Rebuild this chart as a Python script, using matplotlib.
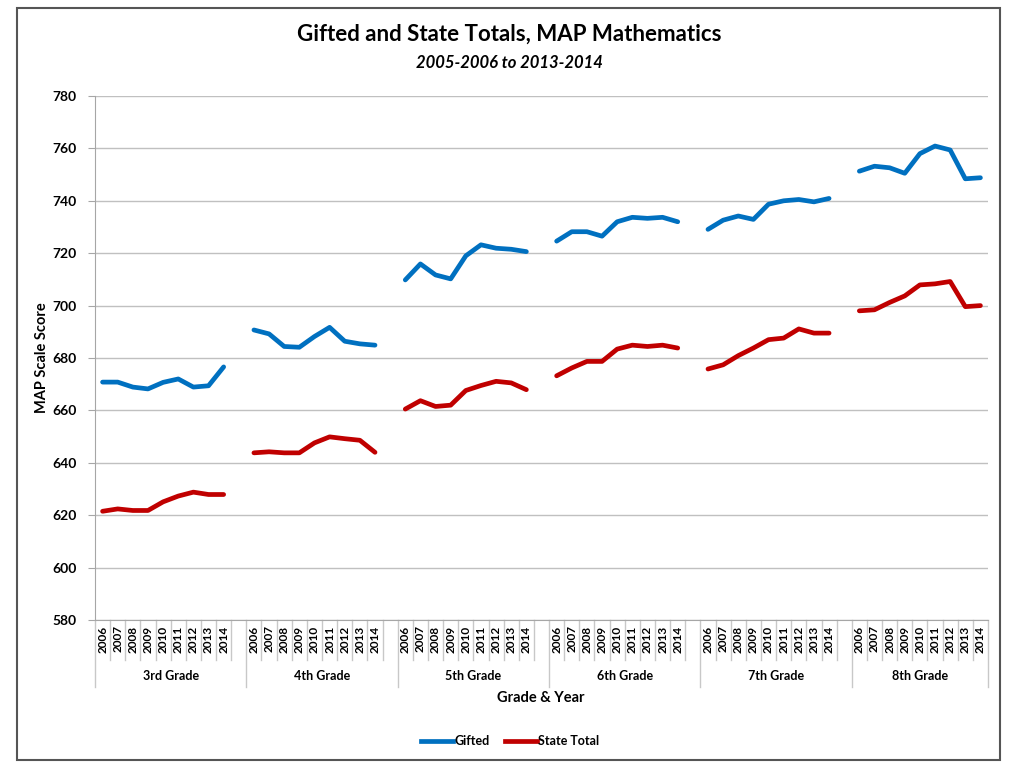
import matplotlib
matplotlib.use("Agg")
import matplotlib.pyplot as plt
from matplotlib.lines import Line2D
from matplotlib.patches import Rectangle
import matplotlib.transforms as mtransforms

plt.rcParams['font.family'] = ['Lato', 'DejaVu Sans']

grades = ["3rd Grade", "4th Grade", "5th Grade", "6th Grade", "7th Grade", "8th Grade"]
years = ["2006", "2007", "2008", "2009", "2010", "2011", "2012", "2013", "2014"]

gifted = [
    [670.8, 670.8, 668.9, 668.2, 670.7, 672.0, 668.9, 669.4, 676.6],
    [690.7, 689.2, 684.4, 684.1, 688.2, 691.7, 686.4, 685.4, 684.9],
    [709.8, 715.9, 711.7, 710.2, 719.0, 723.2, 721.9, 721.5, 720.6],
    [724.6, 728.2, 728.2, 726.5, 732.0, 733.7, 733.3, 733.7, 732.0],
    [729.1, 732.6, 734.2, 732.9, 738.7, 740.0, 740.5, 739.6, 740.9],
    [751.3, 753.2, 752.6, 750.5, 758.0, 760.9, 759.4, 748.4, 748.8],
]
state = [
    [621.5, 622.4, 621.8, 621.8, 625.1, 627.3, 628.8, 627.9, 627.9],
    [643.8, 644.2, 643.8, 643.8, 647.6, 649.9, 649.2, 648.6, 644.0],
    [660.5, 663.7, 661.5, 662.0, 667.6, 669.5, 671.1, 670.5, 667.9],
    [673.2, 676.2, 678.7, 678.7, 683.4, 684.9, 684.4, 684.9, 683.8],
    [675.8, 677.4, 680.9, 683.8, 687.0, 687.6, 691.1, 689.5, 689.5],
    [698.0, 698.4, 701.2, 703.7, 707.9, 708.3, 709.2, 699.6, 700.0],
]

blue = "#0070C0"
red = "#C00000"

W, H = 1024, 768
fig = plt.figure(figsize=(W / 100, H / 100), dpi=100)
fig.patch.set_facecolor("white")
fig.patches.append(Rectangle((17 / W, 1 - 760 / H), (1000 - 17) / W, (760 - 8) / H,
                             transform=fig.transFigure, fill=False,
                             edgecolor="#555555", linewidth=1.5))

ax = fig.add_axes([95 / W, 1 - 620 / H, (988 - 95) / W, (620 - 96) / H])
slot = len(years) + 1
n_slots = slot * len(grades) - 1
ax.set_xlim(-0.5, n_slots - 0.5)
ax.set_ylim(580, 780)
ax.set_yticks(range(580, 781, 20))
ax.yaxis.grid(True, color="#c0c0c0", linewidth=1)
ax.set_axisbelow(True)
for s in ["top", "right"]:
    ax.spines[s].set_visible(False)
ax.spines["left"].set_color("#a6a6a6")
ax.spines["bottom"].set_color("#a6a6a6")
ax.tick_params(axis="y", length=5, color="#a6a6a6", labelsize=10, pad=8)
for lbl in ax.get_yticklabels():
    lbl.set_fontweight("bold")
ax.set_xticks([])

for g in range(len(grades)):
    xs = [g * slot + j for j in range(len(years))]
    ax.plot(xs, gifted[g], color=blue, linewidth=3.4, solid_capstyle="round",
            solid_joinstyle="round")
    ax.plot(xs, state[g], color=red, linewidth=3.4, solid_capstyle="round",
            solid_joinstyle="round")

trans = mtransforms.blended_transform_factory(ax.transData, ax.transAxes)
ah = 620 - 96
short = -40 / ah
long_ = -67 / ah
for k in range(n_slots + 1):
    xb = k - 0.5
    is_group = (k % slot == 0) or k == n_slots
    ax.add_line(Line2D([xb, xb], [0, long_ if is_group else short], transform=trans,
                       color="#c8c8c8", linewidth=1, clip_on=False))

for g, gname in enumerate(grades):
    for j, yr in enumerate(years):
        ax.text(g * slot + j, -19 / ah, yr, transform=trans, rotation=90,
                ha="center", va="center", fontsize=8.5, fontweight="bold")
    gs = g * slot - 0.5
    ge = min(g * slot + slot - 0.5, n_slots - 0.5)
    ax.text((gs + ge) / 2, -56 / ah, gname, transform=trans, ha="center",
            va="center", fontsize=9, fontweight="bold")

fig.text(541 / W, 1 - 698 / H, "Grade & Year", ha="center", va="center",
         fontsize=10.5, fontweight="bold")
fig.text(42 / W, 1 - 358 / H, "MAP Scale Score", ha="center", va="center",
         rotation=90, fontsize=10.5, fontweight="bold")
fig.text(509 / W, 1 - 34 / H, "Gifted and State Totals, MAP Mathematics",
         ha="center", va="center", fontsize=16, fontweight="bold")
fig.text(509 / W, 1 - 63 / H, "2005-2006 to 2013-2014", ha="center",
         va="center", fontsize=12, fontweight="bold", style="italic")

handles = [Line2D([], [], color=blue, linewidth=3.4),
           Line2D([], [], color=red, linewidth=3.4)]
fig.legend(handles, ["Gifted", "State Total"], loc="center",
           bbox_to_anchor=(510 / W, 1 - 741 / H), ncol=2, frameon=False,
           prop={"size": 9, "weight": "bold"}, handlelength=2.6,
           handletextpad=0.1, columnspacing=1.2)

fig.savefig("out.png", dpi=100, facecolor="white")
